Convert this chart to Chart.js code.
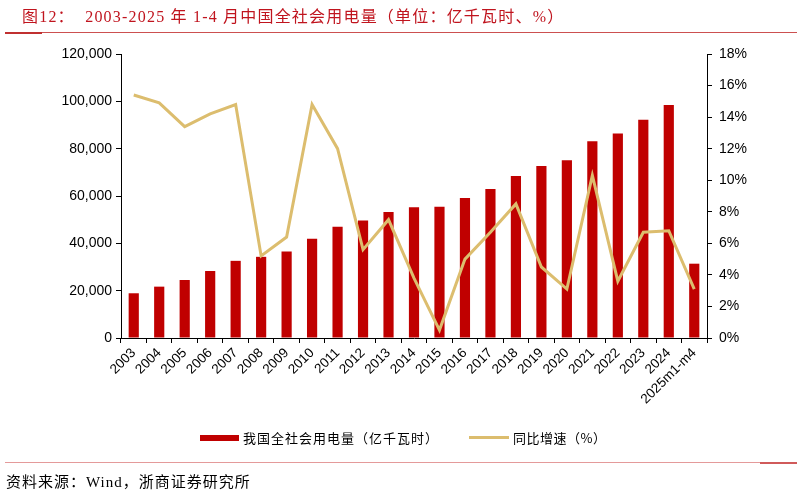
<!DOCTYPE html>
<html>
<head>
<meta charset="utf-8">
<script src="https://cdn.jsdelivr.net/npm/chart.js@4"></script>
<style>
  body { margin: 0; background: #fff; }
  #wrap { position: relative; width: 802px; height: 494px; overflow: hidden; }
  canvas { position: absolute; left: 0; top: 0; }
  .title { position: absolute; left: 22px; top: 3px; color: #c0141e; font-size: 16px; white-space: nowrap; letter-spacing: 1.2px;
    font-family: "Liberation Serif", "Noto Sans CJK SC", serif; }
  .rule { position: absolute; height: 0; }
  .legend { position: absolute; font-family: "Noto Sans CJK SC", sans-serif; font-size: 13px; color: #000; white-space: nowrap; }
  .src { position: absolute; left: 6px; top: 470px; font-size: 15px; white-space: nowrap; letter-spacing: 1px;
    font-family: "Liberation Serif", "Noto Sans CJK SC", serif; }
</style>
</head>
<body>
<div id="wrap">
  <canvas id="chart" width="802" height="494"></canvas>
  <div class="title">图12：&nbsp; 2003-2025 年 1-4 月中国全社会用电量（单位：亿千瓦时、%）</div>
  <div class="rule" style="left:5px;width:792px;top:32px;border-top:1.5px solid #cc5050"></div>
  <div class="rule" style="left:5px;width:37px;top:32px;border-top:2px solid #c03030"></div>

  <div style="position:absolute;left:200px;top:435px;width:39px;height:6px;background:#c00000"></div>
  <div class="legend" style="left:243px;top:428px;letter-spacing:1px">我国全社会用电量（亿千瓦时）</div>
  <div style="position:absolute;left:469px;top:436px;width:40px;height:3px;background:#dcbd6e"></div>
  <div class="legend" style="left:513px;top:428px;letter-spacing:0.5px">同比增速（%）</div>

  <div class="rule" style="left:5px;width:792px;top:462px;border-top:1px solid #e49a9a"></div>
  <div class="rule" style="left:760px;width:37px;top:462px;border-top:2px solid #d05a5a"></div>
  <div class="src">资料来源：Wind，浙商证券研究所</div>
</div>
<script>
const categories = ['2003', '2004', '2005', '2006', '2007', '2008', '2009', '2010', '2011', '2012', '2013', '2014',
  '2015', '2016', '2017', '2018', '2019', '2020', '2021', '2022', '2023', '2024', '2025m1-m4'];
// 全社会用电量（亿千瓦时）
const consumption = [18900, 21700, 24500, 28300, 32600, 34300, 36600, 41900, 47000, 49600, 53200, 55200,
  55500, 59200, 63000, 68400, 72700, 75100, 83100, 86400, 92200, 98500, 31400];
// 同比增速（%）
const growth = [15.4, 14.9, 13.4, 14.2, 14.8, 5.2, 6.4, 14.8, 12.0, 5.6, 7.5, 3.8,
  0.5, 5.0, 6.7, 8.5, 4.5, 3.1, 10.3, 3.6, 6.7, 6.8, 3.1];

const leftTicks = [0, 20000, 40000, 60000, 80000, 100000, 120000];
const rightTicks = [0, 2, 4, 6, 8, 10, 12, 14, 16, 18];

const tickFont = { family: '"Liberation Sans", Arial, sans-serif', size: 14 };

new Chart(document.getElementById('chart'), {
  type: 'bar',
  data: {
    labels: categories,
    datasets: [
      {
        type: 'line',
        label: '同比增速（%）',
        data: growth,
        yAxisID: 'y1',
        borderColor: '#dcbd6e',
        borderWidth: 3,
        pointRadius: 0,
        tension: 0,
        order: 0
      },
      {
        label: '我国全社会用电量（亿千瓦时）',
        data: consumption,
        yAxisID: 'y',
        backgroundColor: '#c00000',
        barPercentage: 0.4,
        categoryPercentage: 1,
        order: 1
      }
    ]
  },
  options: {
    responsive: false,
    animation: false,
    layout: { padding: { top: 54, left: 0, right: 0, bottom: 0 } },
    plugins: { legend: { display: false }, tooltip: { enabled: false } },
    scales: {
      x: {
        afterFit: (s) => { s.height = 156; },
        grid: { display: true, drawOnChartArea: false, color: '#000', tickLength: 5, offset: true },
        border: { color: '#000', width: 1 },
        ticks: { color: '#000', font: { family: tickFont.family, size: 13.5 }, autoSkip: false,
          minRotation: 45, maxRotation: 45, padding: 2 }
      },
      y: {
        position: 'left',
        min: 0, max: leftTicks[leftTicks.length - 1],
        afterFit: (s) => { s.width = 121; },
        afterBuildTicks: (s) => { s.ticks = leftTicks.map(v => ({ value: v })); },
        grid: { display: true, drawOnChartArea: false, color: '#000', tickLength: 5 },
        border: { color: '#000', width: 1 },
        ticks: { color: '#000', font: tickFont, padding: 4,
          callback: (v) => v.toLocaleString('en-US') }
      },
      y1: {
        position: 'right',
        min: 0, max: rightTicks[rightTicks.length - 1],
        afterFit: (s) => { s.width = 95; },
        afterBuildTicks: (s) => { s.ticks = rightTicks.map(v => ({ value: v })); },
        grid: { display: true, drawOnChartArea: false, color: '#000', tickLength: 5 },
        border: { color: '#000', width: 1 },
        ticks: { color: '#000', font: tickFont, padding: 7,
          callback: (v) => v + '%' }
      }
    }
  }
});
</script>
</body>
</html>
